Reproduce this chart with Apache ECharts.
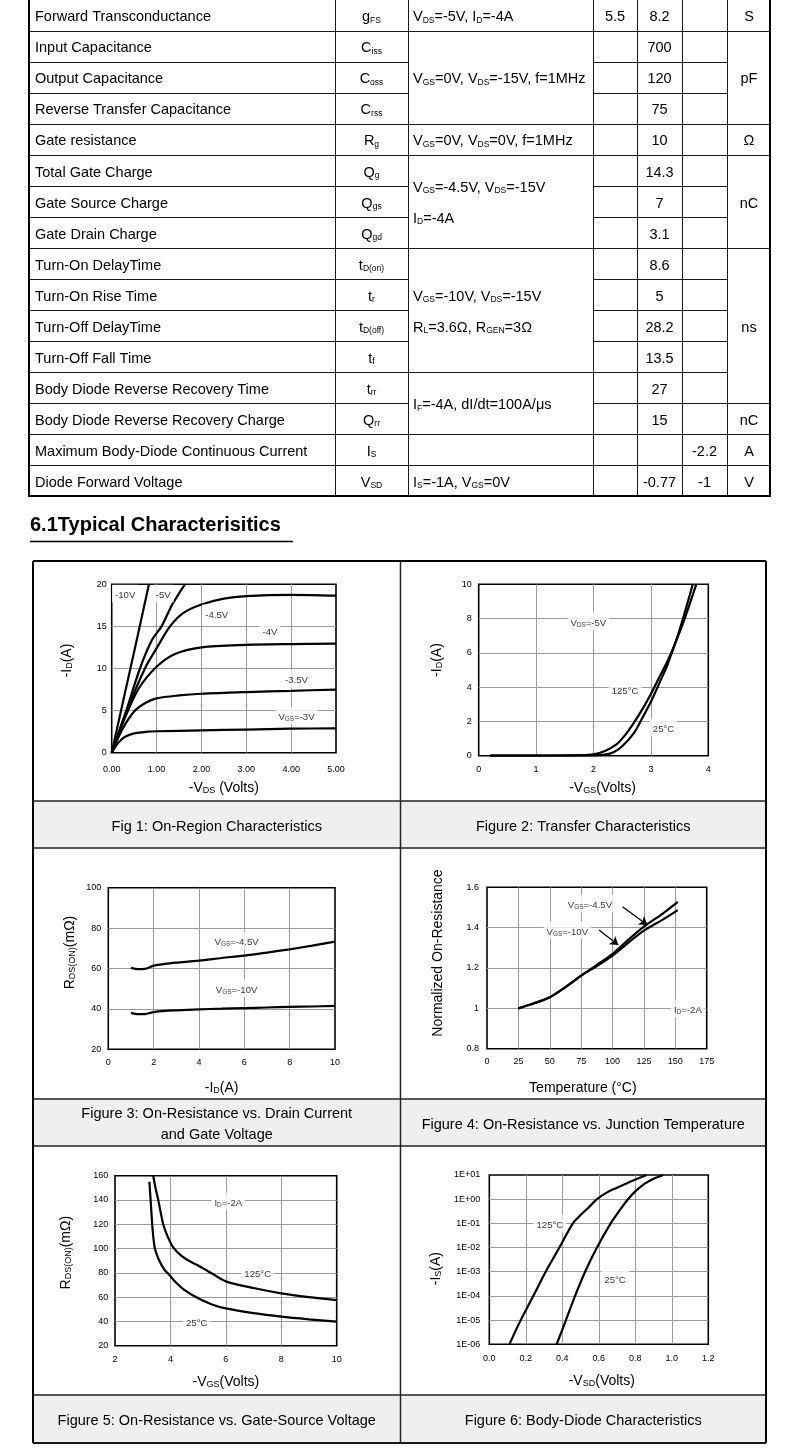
<!DOCTYPE html>
<html><head><meta charset="utf-8">
<script src="https://cdn.jsdelivr.net/npm/echarts@6.0.0/dist/echarts.min.js"></script>
<style>html,body{margin:0;padding:0;background:#fff}#c{width:790px;height:1452px}</style>
</head><body><div id="c"></div>
<script>
const FONT = '"Liberation Sans", Arial, Helvetica, sans-serif';

// ---------------- TABLE DATA ----------------
const paramNames = ['Forward Transconductance','Input Capacitance','Output Capacitance','Reverse Transfer Capacitance','Gate resistance','Total Gate Charge','Gate Source Charge','Gate Drain Charge','Turn-On DelayTime','Turn-On Rise Time','Turn-Off DelayTime','Turn-Off Fall Time','Body Diode Reverse Recovery Time','Body Diode Reverse Recovery Charge','Maximum Body-Diode Continuous Current','Diode Forward Voltage'];
const paramSymbols = ['g_{FS}','C_{iss}','C_{oss}','C_{rss}','R_{g}','Q_{g}','Q_{gs}','Q_{gd}','t_{D(on)}','t_{r}','t_{D(off)}','t_{f}','t_{rr}','Q_{rr}','I_{S}','V_{SD}'];
const minVals = ['5.5','','','','','','','','','','','','','','',''];
const typVals = ['8.2','700','120','75','10','14.3','7','3.1','8.6','5','28.2','13.5','27','15','','-0.77'];
const maxVals = ['','','','','','','','','','','','','','','-2.2','-1'];
const conditionCells = [
  {from:0,to:0,lines:['V_{DS}=-5V, I_{D}=-4A']},
  {from:1,to:3,lines:['V_{GS}=0V, V_{DS}=-15V, f=1MHz']},
  {from:4,to:4,lines:['V_{GS}=0V, V_{DS}=0V, f=1MHz']},
  {from:5,to:7,lines:['V_{GS}=-4.5V, V_{DS}=-15V','I_{D}=-4A']},
  {from:8,to:11,lines:['V_{GS}=-10V, V_{DS}=-15V','R_{L}=3.6Ω, R_{GEN}=3Ω']},
  {from:12,to:13,lines:['I_{F}=-4A, dI/dt=100A/μs']},
  {from:14,to:14,lines:[]},
  {from:15,to:15,lines:['I_{S}=-1A, V_{GS}=0V']}
];
const unitCells = [
  {from:0,to:0,text:'S'},{from:1,to:3,text:'pF'},{from:4,to:4,text:'Ω'},{from:5,to:7,text:'nC'},
  {from:8,to:12,text:'ns'},{from:13,to:13,text:'nC'},{from:14,to:14,text:'A'},{from:15,to:15,text:'V'}
];
const headingText = '6.1Typical Characterisitics';
const captions = [
  ['Fig 1: On-Region Characteristics'],
  ['Figure 2: Transfer Characteristics'],
  ['Figure 3: On-Resistance vs. Drain Current','and Gate Voltage'],
  ['Figure 4: On-Resistance vs. Junction Temperature'],
  ['Figure 5: On-Resistance vs. Gate-Source Voltage'],
  ['Figure 6: Body-Diode Characteristics']
];

// ---------------- CHART DATA ----------------
// Fig 1: -ID vs -VDS
const fig1Vgs10 = [[0,0],[0.2,4.8],[0.4,9.6],[0.6,14.4],[0.83,20]];
const fig1Vgs5  = [[0,0],[0.3,4.6],[0.63,10],[0.9,13.4],[1.11,15],[1.35,17.6],[1.63,20]];
const fig1Vgs45 = [[0,0],[0.3,4.5],[0.74,10],[1.0,12.4],[1.3,15],[1.6,16.6],[2.0,17.6],[2.5,18.3],[3.0,18.6],[4.0,18.75],[5.0,18.65]];
const fig1Vgs4  = [[0,0],[0.3,4.2],[0.6,7.6],[1.0,10.2],[1.4,11.7],[2.0,12.5],[3.0,12.8],[4.0,12.9],[5.0,12.95]];
const fig1Vgs35 = [[0,0],[0.25,2.9],[0.5,4.9],[0.75,5.9],[1.0,6.45],[1.5,6.8],[2.0,7.0],[3.0,7.2],[4.0,7.35],[5.0,7.5]];
const fig1Vgs3  = [[0,0],[0.15,1.2],[0.3,1.9],[0.5,2.3],[0.8,2.5],[1.0,2.55],[2.0,2.65],[3.0,2.75],[4.0,2.85],[5.0,2.9]];
const fig1Labels = [[0.3,18.9,'-10V'],[1.15,18.9,'-5V'],[2.34,16.55,'-4.5V'],[3.53,14.45,'-4V'],[4.12,8.75,'-3.5V'],[4.12,4.4,'V_{GS}=-3V']];

// Fig 2: -ID vs -VGS
const fig2T125 = [[0.2,0],[1.0,0.01],[1.8,0.03],[2.0,0.08],[2.2,0.28],[2.4,0.66],[2.55,1.2],[2.7,1.9],[2.85,2.7],[3.0,3.6],[3.15,4.6],[3.3,5.6],[3.5,7.2],[3.65,8.6],[3.79,10]];
const fig2T25  = [[0.2,0],[1.0,0.005],[2.0,0.02],[2.2,0.06],[2.35,0.2],[2.5,0.55],[2.7,1.3],[2.85,2.2],[3.0,3.15],[3.15,4.25],[3.3,5.4],[3.5,7.35],[3.73,10]];
const fig2Labels = [[1.91,7.85,'V_{DS}=-5V'],[2.55,3.85,'125°C'],[3.22,1.65,'25°C']];

// Fig 3: RDS(ON) vs -ID
const fig3Vgs45 = [[1,60.3],[1.3,59.7],[1.6,59.8],[2,61.4],[2.5,62.3],[3,62.9],[4,63.9],[5,65.2],[6,66.4],[7,67.9],[8,69.5],[9,71.3],[10,73.3]];
const fig3Vgs10 = [[1,38],[1.3,37.4],[1.6,37.4],[2,38.4],[2.5,39],[3,39.3],[4,39.8],[5,40.1],[6,40.4],[7,40.7],[8,41],[9,41.2],[10,41.5]];
const fig3Labels = [[5.66,73.8,'V_{GS}=-4.5V'],[5.66,50.2,'V_{GS}=-10V']];

// Fig 4: normalized RDS(ON) vs temperature
const fig4Vgs45 = [[25,1.0],[37.5,1.025],[50,1.055],[62.5,1.105],[75,1.162],[87.5,1.215],[100,1.27],[112.5,1.34],[125,1.405],[140,1.47],[152,1.528]];
const fig4Vgs10 = [[25,1.0],[37.5,1.025],[50,1.055],[62.5,1.105],[75,1.162],[87.5,1.21],[100,1.262],[112.5,1.325],[125,1.385],[140,1.44],[152,1.487]];
const fig4Labels = [[82,1.52,'V_{GS}=-4.5V'],[64,1.388,'V_{GS}=-10V'],[160,1.0,'I_{D}=-2A']];
const fig4Arrows = [[[108,1.504],[127.7,1.413]],[[89.2,1.388],[104.6,1.314]]];

// Fig 5: RDS(ON) vs -VGS
const fig5T125 = [[3.38,160],[3.46,150],[3.56,140],[3.74,120],[3.9,110],[4.1,101],[4.4,94],[4.7,89.5],[5.0,86],[5.5,79.5],[6,73],[7,67.5],[8,63.1],[9,60],[10,57.6]];
const fig5T25  = [[3.24,155],[3.3,135],[3.36,115],[3.44,100],[3.6,90],[3.8,82],[3.93,79],[4.2,72],[4.5,66],[5,59],[5.5,54],[6,50.7],[7,46.8],[8,43.9],[9,41.7],[10,39.8]];
const fig5Labels = [[6.09,138.8,'I_{D}=-2A'],[7.15,80.2,'125°C'],[4.95,40,'25°C']];

// Fig 6: body diode
const fig6T125 = [[0.11,1e-6],[0.172,1e-5],[0.241,1e-4],[0.309,1e-3],[0.384,1e-2],[0.458,1e-1],[0.5,0.22],[0.55,0.5],[0.59,1.0],[0.65,2.0],[0.7,3.0],[0.76,4.8],[0.8,6.5],[0.862,10]];
const fig6T25  = [[0.369,1e-6],[0.42,1e-5],[0.47,1e-4],[0.525,1e-3],[0.59,1e-2],[0.665,1e-1],[0.72,0.4],[0.76,1.0],[0.8,2.1],[0.85,4.3],[0.9,7],[0.953,10]];
const fig6Labels = [[0.332,0.1,'125°C'],[0.689,5.2e-4,'25°C']];

// ---------------- HELPERS ----------------
function toRich(str){
  let out=''; const re=/_\{([^}]*)\}/g; let last=0, m;
  while((m=re.exec(str))){ if(m.index>last) out+='{n|'+str.slice(last,m.index)+'}'; out+='{s|'+m[1]+'}'; last=re.lastIndex; }
  if(last<str.length) out+='{n|'+str.slice(last)+'}';
  return out;
}
function richStyles(fs, sfs, weight){
  return {
    n:{fontSize:fs,fontFamily:FONT,fontWeight:weight||'normal',color:'#000',lineHeight:fs+3,verticalAlign:'bottom'},
    s:{fontSize:sfs,fontFamily:FONT,fontWeight:weight||'normal',color:'#000',lineHeight:sfs+2,verticalAlign:'bottom'}
  };
}
const el = [];
const TFS = 14.5, TSFS = 8.5;
function addText(x,y,str,o){
  o=o||{}; const fs=o.fs||TFS, sfs=o.sfs||TSFS, al=o.align||'left';
  el.push({type:'text',x:x,y:y,silent:true,z:5,style:{text:toRich(str),rich:richStyles(fs,sfs,o.weight),fill:'#000',
    font:(o.weight||'normal')+' '+fs+'px '+FONT,align:al,verticalAlign:'middle',textAlign:al,textVerticalAlign:'middle'}});
}
function addLine(x1,y1,x2,y2,lw,color){
  el.push({type:'line',silent:true,z:4,shape:{x1,y1,x2,y2},style:{stroke:color||'#1a1a1a',lineWidth:lw||1}});
}
function addRect(x,y,w,h,fill){
  el.push({type:'rect',silent:true,z:1,shape:{x,y,width:w,height:h},style:{fill:fill,stroke:null}});
}

// ---------------- TABLE ----------------
const colX = [28,335,408,593,637,682,727,771];
const T_TOP = -0.5, PITCH = 31.05;
const rowY = i => T_TOP + PITCH*i;
const rowC = (a,b) => (rowY(a)+rowY(b+1))/2 + 1;
const inside = (cells,k) => cells.some(c => k>c.from && k<=c.to);
for(let k=1;k<16;k++){
  const y=Math.round(rowY(k))+0.5;
  addLine(colX[0],y,colX[2],y,1);
  if(!inside(conditionCells,k)) addLine(colX[2],y,colX[3],y,1);
  addLine(colX[3],y,colX[6],y,1);
  if(!inside(unitCells,k)) addLine(colX[6],y,colX[7],y,1);
}
const tBottom = Math.round(rowY(16));
for(let c=1;c<7;c++) addLine(colX[c]+0.5,0,colX[c]+0.5,tBottom,1);
addLine(colX[0]+1,0,colX[0]+1,tBottom+1,2,'#000');
addLine(colX[7]-1,0,colX[7]-1,tBottom+1,2,'#000');
addLine(colX[0],tBottom,colX[7],tBottom,2,'#000');
for(let i=0;i<16;i++){
  const y=rowC(i,i);
  addText(35,y,paramNames[i]);
  addText((colX[1]+colX[2])/2,y,paramSymbols[i],{align:'center'});
  if(minVals[i]) addText((colX[3]+colX[4])/2,y,minVals[i],{align:'center'});
  if(typVals[i]) addText((colX[4]+colX[5])/2,y,typVals[i],{align:'center'});
  if(maxVals[i]) addText((colX[5]+colX[6])/2,y,maxVals[i],{align:'center'});
}
conditionCells.forEach(c=>{
  const cy=rowC(c.from,c.to), n=c.lines.length;
  c.lines.forEach((ln,j)=>addText(colX[2]+5, cy+(j-(n-1)/2)*PITCH, ln));
});
unitCells.forEach(c=>addText((colX[6]+colX[7])/2,rowC(c.from,c.to),c.text,{align:'center'}));

// ---------------- HEADING ----------------
addText(30,524,headingText,{fs:20,weight:'bold'});
addLine(30,541.5,293,541.5,1.5,'#000');

// ---------------- FIGURE FRAME ----------------
const FX0=33, FX1=766, FXM=400.5, FY0=561, FY1=1443;
const bands = [[801,848],[1099,1146],[1395,1443]];
bands.forEach(b=>addRect(FX0,b[0],FX1-FX0,b[1]-b[0],'#efefef'));
addLine(FX0,FY0,FX1,FY0,2,'#000');
addLine(FX0,FY1,FX1,FY1,2,'#000');
addLine(FX0,FY0,FX0,FY1,2,'#000');
addLine(FX1,FY0,FX1,FY1,2,'#000');
addLine(FXM,FY0,FXM,FY1,1.5,'#222');
bands.forEach(b=>{ addLine(FX0,b[0],FX1,b[0],1.5,'#222'); addLine(FX0,b[1],FX1,b[1],1.5,'#222'); });
const capCx = [(FX0+FXM)/2,(FXM+FX1)/2];
captions.forEach((cap,i)=>{
  const b=bands[Math.floor(i/2)], cx=capCx[i%2], cy=(b[0]+b[1])/2+1;
  cap.forEach((ln,j)=>addText(cx, cy+(j-(cap.length-1)/2)*21, ln, {align:'center',fs:14.5}));
});

// ---------------- CHARTS ----------------
const grids = [
  {left:111.7,top:584.3,width:224.3,height:168.4},
  {left:478.7,top:584.3,width:229.6,height:171.4},
  {left:108.3,top:887.7,width:226.7,height:161.6},
  {left:487,top:887.3,width:219.7,height:161.4},
  {left:115,top:1175.7,width:221.7,height:170},
  {left:489.3,top:1175,width:219,height:169.3}
];
const logFmt = v => { const e=Math.round(Math.log10(v)); return '1E'+(e<0?'-':'+')+String(Math.abs(e)).padStart(2,'0'); };
const axes = [
  {x:{min:0,max:5,interval:1,fmt:v=>v.toFixed(2),name:'-V_{DS} (Volts)',gap:25,margin:12,pad:[0,0,0,0]},
   y:{min:0,max:20,interval:5,name:'-I_{D}(A)',gap:38,margin:5,pad:[0,0,0,16]}},
  {x:{min:0,max:4,interval:1,name:'-V_{GS}(Volts)',gap:22.5,margin:9,pad:[0,0,0,18]},
   y:{min:0,max:10,interval:2,name:'-I_{D}(A)',gap:35,margin:7,pad:[0,0,0,20]}},
  {x:{min:0,max:10,interval:2,name:'-I_{D}(A)',gap:29,margin:8.5,pad:[0,0,0,0]},
   y:{min:20,max:100,interval:20,name:'R_{DS(ON)}(mΩ)',gap:31.5,margin:7,pad:[0,0,0,32]}},
  {x:{min:0,max:175,interval:25,name:'Temperature (°C)',gap:29.5,margin:8,pad:[0,28,0,0]},
   y:{min:0.8,max:1.6,interval:0.2,name:'Normalized On-Resistance',gap:42,margin:8,pad:[0,0,0,30]}},
  {x:{min:2,max:10,interval:2,name:'-V_{GS}(Volts)',gap:26,margin:9,pad:[0,0,0,0]},
   y:{min:20,max:160,interval:20,name:'R_{DS(ON)}(mΩ)',gap:41.5,margin:6.7,pad:[0,0,0,16]}},
  {x:{min:0,max:1.2,interval:0.2,fmt:v=>v.toFixed(1),name:'-V_{SD}(Volts)',gap:27,margin:10,pad:[0,0,0,6]},
   y:{log:true,min:1e-6,max:10,fmt:logFmt,name:'-I_{S}(A)',gap:46,margin:9,pad:[0,18,0,0]}}
];
const curves = [
  [fig1Vgs10,fig1Vgs5,fig1Vgs45,fig1Vgs4,fig1Vgs35,fig1Vgs3],
  [fig2T125,fig2T25],
  [fig3Vgs45,fig3Vgs10],
  [fig4Vgs45,fig4Vgs10],
  [fig5T125,fig5T25],
  [fig6T125,fig6T25]
];
const labels = [fig1Labels,fig2Labels,fig3Labels,fig4Labels,fig5Labels,fig6Labels];

function axisOpt(a,gi,isX){
  const o = {
    gridIndex:gi, type:a.log?'log':'value', min:a.min, max:a.max,
    name:toRich(a.name), nameLocation:'middle', nameGap:a.gap,
    nameTextStyle:{rich:richStyles(14,9),fontSize:14,fontFamily:FONT,color:'#000',padding:a.pad},
    axisLine:{show:false}, axisTick:{show:false},
    axisLabel:{fontSize:9,fontFamily:FONT,color:'#000',margin:a.margin,formatter:a.fmt},
    splitLine:{show:true,showMinLine:false,showMaxLine:false,lineStyle:{color:'#9a9a9a',width:1}}
  };
  if(a.log){ o.logBase=10; } else { o.interval=a.interval; }
  if(!isX) o.nameRotate=90;
  return o;
}

const option = {
  animation:false,
  grid: grids.map(g=>Object.assign({show:true,borderColor:'#000',borderWidth:1.6,backgroundColor:'transparent',containLabel:false},g)),
  xAxis: axes.map((a,i)=>axisOpt(a.x,i,true)),
  yAxis: axes.map((a,i)=>axisOpt(a.y,i,false)),
  series: [],
  graphic: {elements: el}
};
curves.forEach((list,gi)=>{
  list.forEach((d,ci)=>{
    const s = {type:'line',xAxisIndex:gi,yAxisIndex:gi,data:d,showSymbol:false,symbol:'none',smooth:0.3,
      lineStyle:{color:'#000',width:2.2},silent:true,z:3};
    if(gi===3 && ci===0){
      s.markLine = {silent:true,symbol:['none','arrow'],symbolSize:8,label:{show:false},
        lineStyle:{color:'#000',width:1.3,type:'solid'},
        data: fig4Arrows.map(a=>[{coord:a[0]},{coord:a[1]}])};
    }
    option.series.push(s);
  });
  option.series.push({type:'scatter',xAxisIndex:gi,yAxisIndex:gi,symbolSize:0,silent:true,z:6,
    data: labels[gi].map(l=>[l[0],l[1],toRich(l[2])]),
    label:{show:true,position:'inside',formatter:p=>p.data[2],rich:richStyles(9.6,6.4),
      backgroundColor:'#fff',padding:[3,3,2,3],color:'#000'}});
});

const chart = echarts.init(document.getElementById('c'));
chart.setOption(option);
</script></body></html>
